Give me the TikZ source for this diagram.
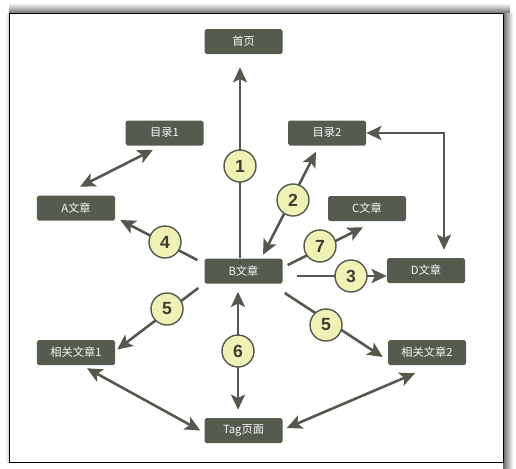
\documentclass[tikz,border=0pt]{standalone}
\usepackage{fontspec}
\newfontfamily\cjk{Noto Sans CJK SC}
\newfontfamily\numfont{Liberation Sans}
\usetikzlibrary{positioning}
\usetikzlibrary{arrows.meta, calc}
\definecolor{boxgray}{RGB}{86,91,80}
\definecolor{linegray}{RGB}{84,88,78}
\definecolor{numfill}{RGB}{240,241,180}
\definecolor{numtext}{RGB}{58,62,50}
\tikzstyle{link} = [line width=2.2pt, draw=linegray, ->, >={Stealth[length=13pt,width=12pt,inset=3pt]}]
\pgfdeclarelayer{bg}
\pgfsetlayers{bg,main}

\begin{document}
\begin{tikzpicture}[
  x=0.03cm, y=-0.03cm,
  page/.style={rectangle, fill=boxgray, text=white!94!gray, rounded corners=1.5pt,
    minimum width=2.34cm, minimum height=0.75cm, inner sep=0pt,
    font=\cjk\fontsize{9.6}{10}\selectfont},
  num/.style={circle, draw=linegray, line width=1.2pt, fill=numfill,
    minimum size=0.96cm, inner sep=0pt, text=numtext,
    font=\numfont\bfseries\fontsize{15}{15}\selectfont}
]
\useasboundingbox (0,0) rectangle (516,468);

% pages
\node[page] (home) at (243.5,41.5) {首页};
\node[page] (dir1) at (164.5,133) {目录1};
\node[page] (dir2) at (327,133) {目录2};
\node[page] (A) at (76,208) {A文章};
\node[page] (C) at (367,208.5) {C文章};
\node[page] (B) at (243.5,271) {B文章};
\node[page] (D) at (426,270.5) {D文章};
\node[page] (R1) at (76,352.5) {相关文章1};
\node[page] (R2) at (427,352.5) {相关文章2};
\node[page] (tag) at (243.5,430.5) {Tag页面};

% step numbers
\node[num] (n1) at (240,166) {1};
\node[num] (n2) at (293,200) {2};
\node[num] (n3) at (351,276) {3};
\node[num] (n4) at (165,242) {4};
\node[num] (n5a) at (167,309) {5};
\node[num] (n5b) at (326,325) {5};
\node[num] (n6) at (238,351) {6};
\node[num] (n7) at (320,246) {7};

\begin{pgfonlayer}{bg}
% frame
\shade[top color=white, bottom color=black!55] (9,3) rectangle (510,13);
\shade[left color=black!60, right color=white] (503,13) rectangle (513,468);
\shade[left color=white, right color=black!20] (5,13) rectangle (9,462);
\draw[black, line width=0.8pt, fill=white] (9,13) rectangle (503,462);

% links
\draw[link, shorten >=0.39cm] (B.north -| n1) -- (home.south -| n1);
\draw[link, <->] ($(dir1.south)+(-11.5,4)$) -- ($(A.north)+(4,-8.5)$);
\draw[link, <->] ($(B.north)+(19.5,-3.5)$) -- ($(dir2.south)+(-11,6)$);
\draw[link, <->] ($(D.north)+(18,-8)$) |- (dir2.east);
\draw[link, shorten <=0.42cm] (B.east |- n3) -- (D.west |- n3);
\draw[link] ($(B.west)+(-7,-11)$) -- ($(A.east)+(5,12)$);
\draw[link] ($(B.east)+(5,-6)$) -- ($(C.south)+(-4,6)$);
\draw[link] ($(B.west)+(-6,17)$) -- ($(R1.east)+(2,-3)$);
\draw[link] ($(B.east)+(2,22)$) -- ($(R2.west)+(-5,4.5)$);
\draw[link, <->, shorten <=0.24cm, shorten >=0.24cm] (B.south -| n6) -- (tag.north -| n6);
\draw[link, <->] ($(R1.south)+(11,3)$) -- ($(tag.west)+(-4,0)$);
\draw[link, <->] ($(R2.south)+(-12,8)$) -- ($(tag.east)+(4,-2.5)$);
\end{pgfonlayer}

\end{tikzpicture}
\end{document}
